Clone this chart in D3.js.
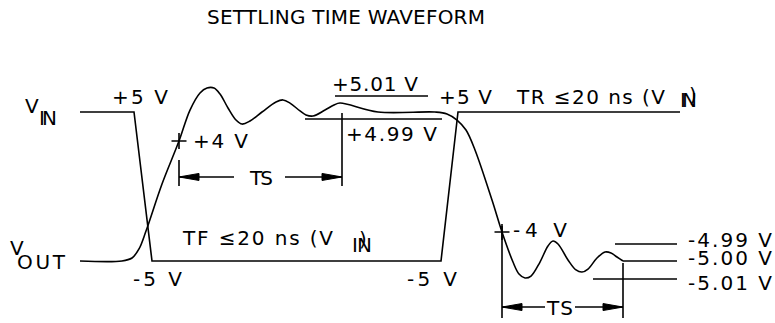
<!DOCTYPE html>
<html>
<head>
<meta charset="utf-8">
<script src="https://cdn.jsdelivr.net/npm/d3@7/dist/d3.min.js"></script>
<style>
  body { margin: 0; background: #fff; }
  text { font-family: "DejaVu Sans", "Liberation Sans", sans-serif; fill: #000; }
</style>
</head>
<body>
<div id="app"></div>
<script>
// time in schematic ns units, level in schematic volts (ringing is exaggerated, as in the drawing)
const vinT = [0, 10.8, 14.4, 72.2, 75.6, 120];
const vinV = [5, 5, -5, -5, 5, 5];

const voutT = [0, 8.4, 10.4, 11.8, 13.2, 16.4, 19.8, 22, 24, 25.4, 26.8, 28, 29.6, 31.2, 32.4, 34, 36.4,
  39.2, 40.6, 42, 44, 45.2, 46.6, 49, 50.8, 52, 59.6, 71, 73.4, 75.4, 77.2, 79, 82.4, 84.4, 86.6, 87.8, 89,
  90.2, 92, 93.6, 94.6, 95.6, 97.6, 99.2, 100.4, 101.6, 103.4, 105, 106.2, 107.4, 108.6];
const voutV = [-5, -5, -4.8, -4.19, -2.99, 0.17, 3.05, 5.13, 6.28, 6.61, 6.61, 6.21, 5.27, 4.46, 4.19, 4.4, 5.0,
  5.67, 5.81, 5.6, 5.07, 4.8, 4.73, 5.13, 5.47, 5.6, 5.0, 5.0, 4.87, 4.46, 3.79, 2.45, -0.91, -3.05, -5.07, -5.87, -6.14,
  -6.01, -5.07, -3.99, -3.66, -3.86, -4.93, -5.6, -5.74, -5.54, -4.8, -4.4, -4.46, -4.73, -5];

// error band lines: [t start, t end, level]
const bandLines = [
  [51, 69.6, 6.07],     // +5.01 V
  [45, 72.4, 4.53],     // +4.99 V
  [107, 119.4, -3.86],  // -4.99 V
  [108.6, 119.4, -5],   // -5.00 V
  [102.6, 119.4, -6.21] // -5.01 V
];

// crossing marks at +4 V / -4 V
const plusMarks = [[19.8, 3.05], [84.4, -3.05]];

// settling time spans
const tsSpans = [
  {t0: 19.8, t1: 52.4, v: 0.64, lTop: 1.78, rTop: 4.93, bottom: 0.03, gap0: 30.8, gap1: 41},
  {t0: 84.4, t1: 108.6, v: -8.09, lTop: -2.65, rTop: -5.13, bottom: -8.83, gap0: 93, gap1: 99}
];

// text labels: [text, t, v, width]
const labels = [
  ["+5 V", 6.4, 5.54, 56],
  ["+4 V", 22.6, 2.58, 55],
  ["TS", 34, 0.1, 23],
  ["+5.01 V", 50.4, 6.41, 86],
  ["+4.99 V", 53.2, 3.05, 91],
  ["+5 V", 71.8, 5.54, 53],
  ["TR ≤20 ns (V", 87.4, 5.54, 148],
  ["IN", 120, 5.34, 17],
  [")", 121.8, 5.67, 0],
  ["TF ≤20 ns (V", 20.6, -3.93, 150],
  ["IN", 54.4, -4.4, 20],
  [")", 55.8, -3.99, 0],
  ["-5 V", 10.6, -6.68, 49],
  ["-5 V", 65.4, -6.68, 50],
  ["-4 V", 86.6, -3.39, 54],
  ["-4.99 V", 121.6, -4.06, 84],
  ["-5.00 V", 121.6, -5.27, 84],
  ["-5.01 V", 121.6, -6.95, 84],
  ["TS", 93.4, -8.62, 26],
  ["V", -11, 4.93, 0],
  ["IN", -8.2, 4.13, 18],
  ["V", -14, -4.6, 0],
  ["OUT", -12.6, -5.54, 48]
];

const width = 775, height = 323;
const x = d3.scaleLinear().domain([0, 120]).range([80, 680]);
const y = d3.scaleLinear().domain([-5, 5]).range([261, 112]);

const svg = d3.select("#app").append("svg")
    .attr("width", width)
    .attr("height", height)
    .attr("viewBox", [0, 0, width, height]);

svg.append("text")
    .attr("x", 207)
    .attr("y", 24)
    .attr("font-size", 20)
    .attr("textLength", 278)
    .attr("lengthAdjust", "spacing")
    .text("SETTLING TIME WAVEFORM");

const g = svg.append("g")
    .attr("fill", "none")
    .attr("stroke", "#000")
    .attr("stroke-width", 1.6);

// input: straight segments
g.append("path")
    .attr("d", d3.line().x(i => x(vinT[i])).y(i => y(vinV[i]))(d3.range(vinT.length)));

// output: smooth ringing curve
g.append("path")
    .attr("stroke-linejoin", "round")
    .attr("d", d3.line().curve(d3.curveCatmullRom.alpha(0.5))
      .x(i => x(voutT[i])).y(i => y(voutV[i]))(d3.range(voutT.length)));

g.selectAll(".band")
  .data(bandLines)
  .join("line")
    .attr("x1", d => x(d[0])).attr("x2", d => x(d[1]))
    .attr("y1", d => y(d[2])).attr("y2", d => y(d[2]));

g.selectAll(".plus")
  .data(plusMarks)
  .join("path")
    .attr("d", d => `M${x(d[0]) - 7.5},${y(d[1])}H${x(d[0]) + 7.5}M${x(d[0])},${y(d[1]) - 8}V${y(d[1]) + 8}`);

const arrow = (tip, dir, yy) => `M${tip},${yy}L${tip + dir * 20},${yy - 3.5}L${tip + dir * 20},${yy + 3.5}Z`;

tsSpans.forEach(s => {
  const yy = y(s.v);
  g.append("line").attr("x1", x(s.t0)).attr("x2", x(s.t0)).attr("y1", y(s.lTop)).attr("y2", y(s.bottom));
  g.append("line").attr("x1", x(s.t1)).attr("x2", x(s.t1)).attr("y1", y(s.rTop)).attr("y2", y(s.bottom));
  g.append("line").attr("x1", x(s.t0)).attr("x2", x(s.gap0)).attr("y1", yy).attr("y2", yy);
  g.append("line").attr("x1", x(s.gap1)).attr("x2", x(s.t1)).attr("y1", yy).attr("y2", yy);
  g.append("path").attr("fill", "#000").attr("stroke-width", 1).attr("d", arrow(x(s.t0), 1, yy));
  g.append("path").attr("fill", "#000").attr("stroke-width", 1).attr("d", arrow(x(s.t1), -1, yy));
});

svg.append("g")
  .selectAll("text")
  .data(labels)
  .join("text")
    .attr("x", d => x(d[1]))
    .attr("y", d => y(d[2]))
    .attr("font-size", 20)
    .attr("textLength", d => d[3] || null)
    .attr("lengthAdjust", "spacing")
    .text(d => d[0]);
</script>
</body>
</html>
